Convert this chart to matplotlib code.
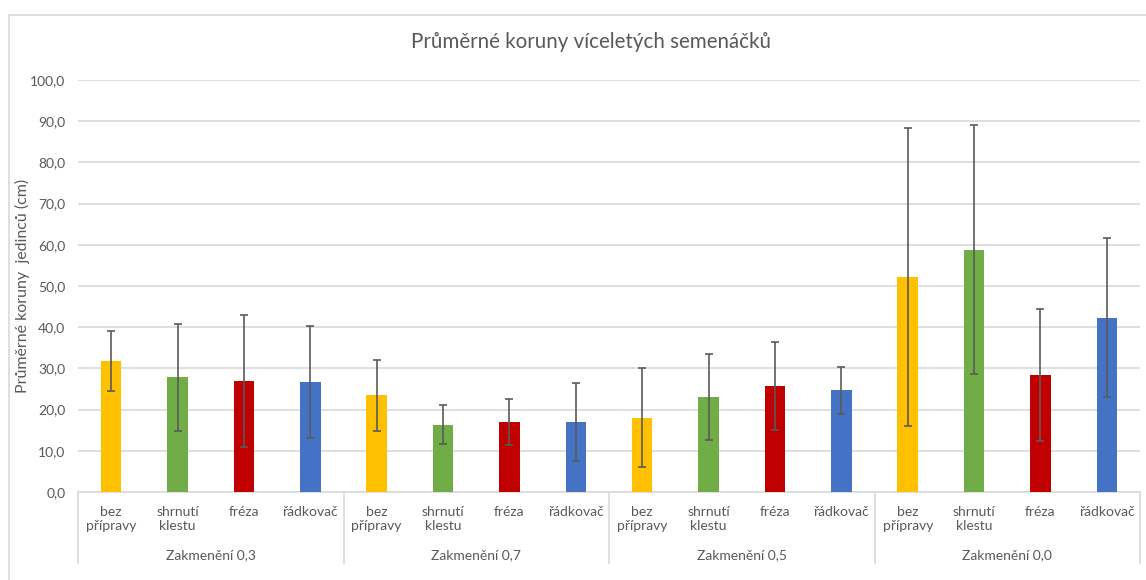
import matplotlib
matplotlib.use("Agg")
import matplotlib.pyplot as plt
from matplotlib.patches import Rectangle
from matplotlib.ticker import FuncFormatter, MultipleLocator

groups = ["Zakmenění 0,3", "Zakmenění 0,7", "Zakmenění 0,5", "Zakmenění 0,0"]
treatments = ["bez\npřípravy", "shrnutí\nklestu", "fréza", "řádkovač"]
colors = ["#FFC000", "#70AD47", "#C00000", "#4472C4"]

means = [31.8, 27.8, 26.9, 26.7,
         23.5, 16.3, 16.9, 17.0,
         18.0, 23.1, 25.8, 24.7,
         52.1, 58.8, 28.3, 42.3]
errors = [7.3, 13.0, 16.0, 13.6,
          8.6, 4.75, 5.6, 9.4,
          12.0, 10.4, 10.7, 5.75,
          36.2, 30.2, 16.0, 19.3]

W, H = 1146, 580
fig = plt.figure(figsize=(W / 100, H / 100), dpi=100)
plt.rcParams['font.family'] = ['Lato', 'DejaVu Sans']
txt = "#595959"
grid = "#d9d9d9"

ax = fig.add_axes([78 / W, 1 - 492 / H, (1140 - 78) / W, (492 - 80) / H])

n_t = len(treatments)
xs = list(range(len(means)))
bar_colors = [colors[i % n_t] for i in xs]
ax.bar(xs, means, width=0.31, color=bar_colors, zorder=3)
ax.errorbar(xs, means, yerr=errors, fmt='none', ecolor="#5a5a5a",
            elinewidth=1.2, capsize=3, capthick=1.2, zorder=4)

ax.set_xlim(-0.5, len(means) - 0.5)
ax.set_ylim(0, 100)
ax.yaxis.set_major_locator(MultipleLocator(10))
ax.yaxis.set_major_formatter(FuncFormatter(lambda v, p: f"{v:.1f}".replace(".", ",")))
ax.tick_params(axis='y', length=0, pad=9, labelsize=10, labelcolor=txt)
ax.set_xticks([])
ax.grid(axis='y', color=grid, linewidth=1.2, zorder=0)
for s in ["top", "right", "left"]:
    ax.spines[s].set_visible(False)
ax.spines["bottom"].set_color(grid)
ax.spines["bottom"].set_linewidth(1.2)

ax.set_ylabel("Průměrné koruny  jedinců (cm)", fontsize=11.5, color=txt)
ax.yaxis.set_label_coords((30 - 78) / (1140 - 78), 0.5)

trans = ax.get_xaxis_transform()
axh = 492 - 80
for i, x in enumerate(xs):
    ax.text(x, -14 / axh, treatments[i % n_t], transform=trans, ha='center',
            va='top', fontsize=10, color=txt, linespacing=1.2)
for g, name in enumerate(groups):
    c = g * n_t + (n_t - 1) / 2
    ax.text(c, -63 / axh, name, transform=trans, ha='center', va='center',
            fontsize=10, color=txt)
for b in range(len(groups) + 1):
    xb = b * n_t - 0.5
    ax.plot([xb, xb], [0, -71 / axh], transform=trans, color=grid,
            linewidth=1.2, clip_on=False)

fig.text(591 / W, 1 - 42 / H, "Průměrné koruny víceletých semenáčků",
         ha='center', va='center', fontsize=14.8, color=txt)

fig.patches.append(Rectangle((8.5 / W, -0.05), 1.1, 1 - 15 / H + 0.05,
                             transform=fig.transFigure, fill=False,
                             edgecolor=grid, linewidth=1.2))

fig.savefig("out.png", dpi=100)
